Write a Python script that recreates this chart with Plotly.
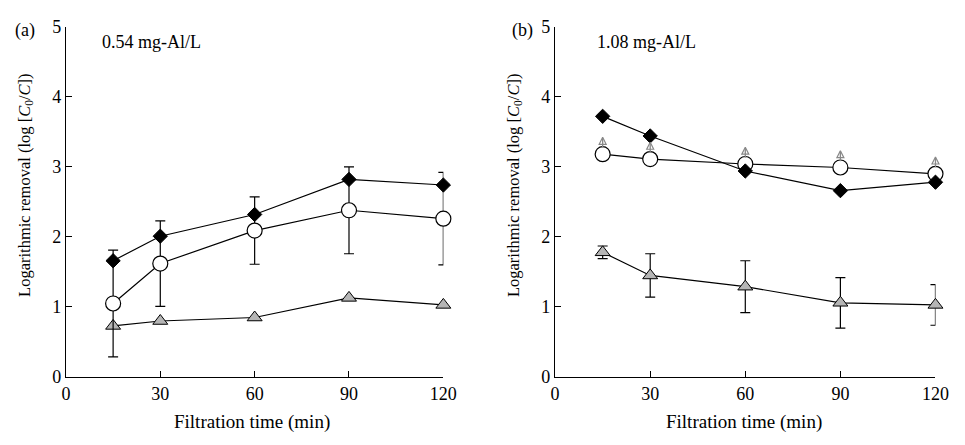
import plotly.graph_objects as go

time = [15, 30, 60, 90, 120]

# Panel (a) 0.54 mg-Al/L
a_diamond = [1.66, 2.01, 2.32, 2.82, 2.74]
a_circle = [1.05, 1.62, 2.09, 2.38, 2.26]
a_circle_err = [0.76, 0.61, 0.48, 0.62, 0.66]
a_triangle = [0.73, 0.80, 0.85, 1.13, 1.03]

# Panel (b) 1.08 mg-Al/L
b_diamond = [3.72, 3.44, 2.94, 2.66, 2.78]
b_circle = [3.18, 3.11, 3.04, 2.99, 2.90]
b_arrow_offset = 0.24
b_stem_offset = 0.16
b_triangle = [1.78, 1.45, 1.29, 1.06, 1.03]
b_triangle_err = [0.09, 0.31, 0.37, 0.36, 0.29]

x_ticks = [0, 30, 60, 90, 120]
y_ticks = [0, 1, 2, 3, 4, 5]

FONT = "Liberation Serif"
W, H = 965, 445
OFF = 8  # page body margin shifts the figure by this many pixels

fig = go.Figure()

def add_panel(xa, ya, diamond, circle, circle_err, triangle, tri_err):
    line = dict(color="black", width=1.2)
    tri = go.Scatter(x=time, y=triangle, mode="lines+markers", xaxis=xa, yaxis=ya,
                     line=line, cliponaxis=False,
                     marker=dict(symbol="triangle-up", size=13, color="#b5b5b5",
                                 line=dict(color="black", width=1)))
    if tri_err is not None:
        tri.error_y = dict(type="data", array=tri_err, visible=True, color="black",
                           thickness=1.2, width=5)
    circ = go.Scatter(x=time, y=circle, mode="lines+markers", xaxis=xa, yaxis=ya,
                      line=line, cliponaxis=False,
                      marker=dict(symbol="circle", size=15, color="white",
                                  line=dict(color="black", width=1.2)))
    if circle_err is not None:
        circ.error_y = dict(type="data", array=circle_err, visible=True, color="black",
                            thickness=1.2, width=5)
    dia = go.Scatter(x=time, y=diamond, mode="lines+markers", xaxis=xa, yaxis=ya,
                     line=line, cliponaxis=False,
                     marker=dict(symbol="diamond", size=11, color="black",
                                 line=dict(color="black", width=1)))
    fig.add_trace(tri)
    fig.add_trace(circ)
    fig.add_trace(dia)

add_panel("x", "y", a_diamond, a_circle, a_circle_err, a_triangle, None)
add_panel("x2", "y2", b_diamond, b_circle, None, b_triangle, b_triangle_err)

# "greater than" arrows above the open circles in panel (b)
fig.add_trace(go.Scatter(x=time, y=[v + b_stem_offset for v in b_circle], mode="markers",
                         xaxis="x2", yaxis="y2", cliponaxis=False,
                         marker=dict(symbol="line-ns", size=7, color="#888888",
                                     line=dict(color="#888888", width=1.3))))
fig.add_trace(go.Scatter(x=time, y=[v + b_arrow_offset for v in b_circle], mode="markers",
                         xaxis="x2", yaxis="y2", cliponaxis=False,
                         marker=dict(symbol="arrow-up-open", size=7, color="#888888",
                                     line=dict(color="#888888", width=1.2))))

axis_common = dict(showgrid=False, zeroline=False, showline=True, linecolor="black",
                   linewidth=1.3, ticks="inside", ticklen=6, tickcolor="black",
                   ticklabeloverflow="allow",
                   tickfont=dict(family=FONT, size=18, color="black"))

def px_x(x):
    return (x - OFF) / W

def px_y(y):
    return 1 - (y - OFF) / H

ydom = [px_y(384), px_y(17)]
fig.update_layout(
    width=W, height=H, showlegend=False,
    margin=dict(l=0, r=0, t=0, b=0),
    paper_bgcolor="white", plot_bgcolor="white",
    xaxis=dict(domain=[px_x(62), px_x(447)], range=[0, 120], tickvals=x_ticks, anchor="y", **axis_common),
    yaxis=dict(domain=ydom, range=[0, 5], tickvals=y_ticks, anchor="x", **axis_common),
    xaxis2=dict(domain=[px_x(561), px_x(949)], range=[0, 120], tickvals=x_ticks, anchor="y2", **axis_common),
    yaxis2=dict(domain=ydom, range=[0, 5], tickvals=y_ticks, anchor="x2", **axis_common),
)

ytitle = "Logarithmic removal (log [<i>C</i><sub>0</sub>/<i>C</i>])"
def ann(x, y, text, size=16, angle=0):
    fig.add_annotation(x=px_x(x), y=px_y(y), xref="paper", yref="paper", text=text,
                       showarrow=False, textangle=angle, xanchor="center", yanchor="middle",
                       font=dict(family=FONT, size=size, color="black"))

ann(20, 21, "(a)", 18)
ann(528, 21, "(b)", 18)
ann(149, 33, "0.54 mg-Al/L", 18)
ann(654, 33, "1.08 mg-Al/L", 18)
ann(252, 431, "Filtration time (min)", 19)
ann(754, 431, "Filtration time (min)", 19)
ann(20, 183, ytitle, 16.5, -90)
ann(519, 183, ytitle, 16.5, -90)

fig.write_html("out.html")
